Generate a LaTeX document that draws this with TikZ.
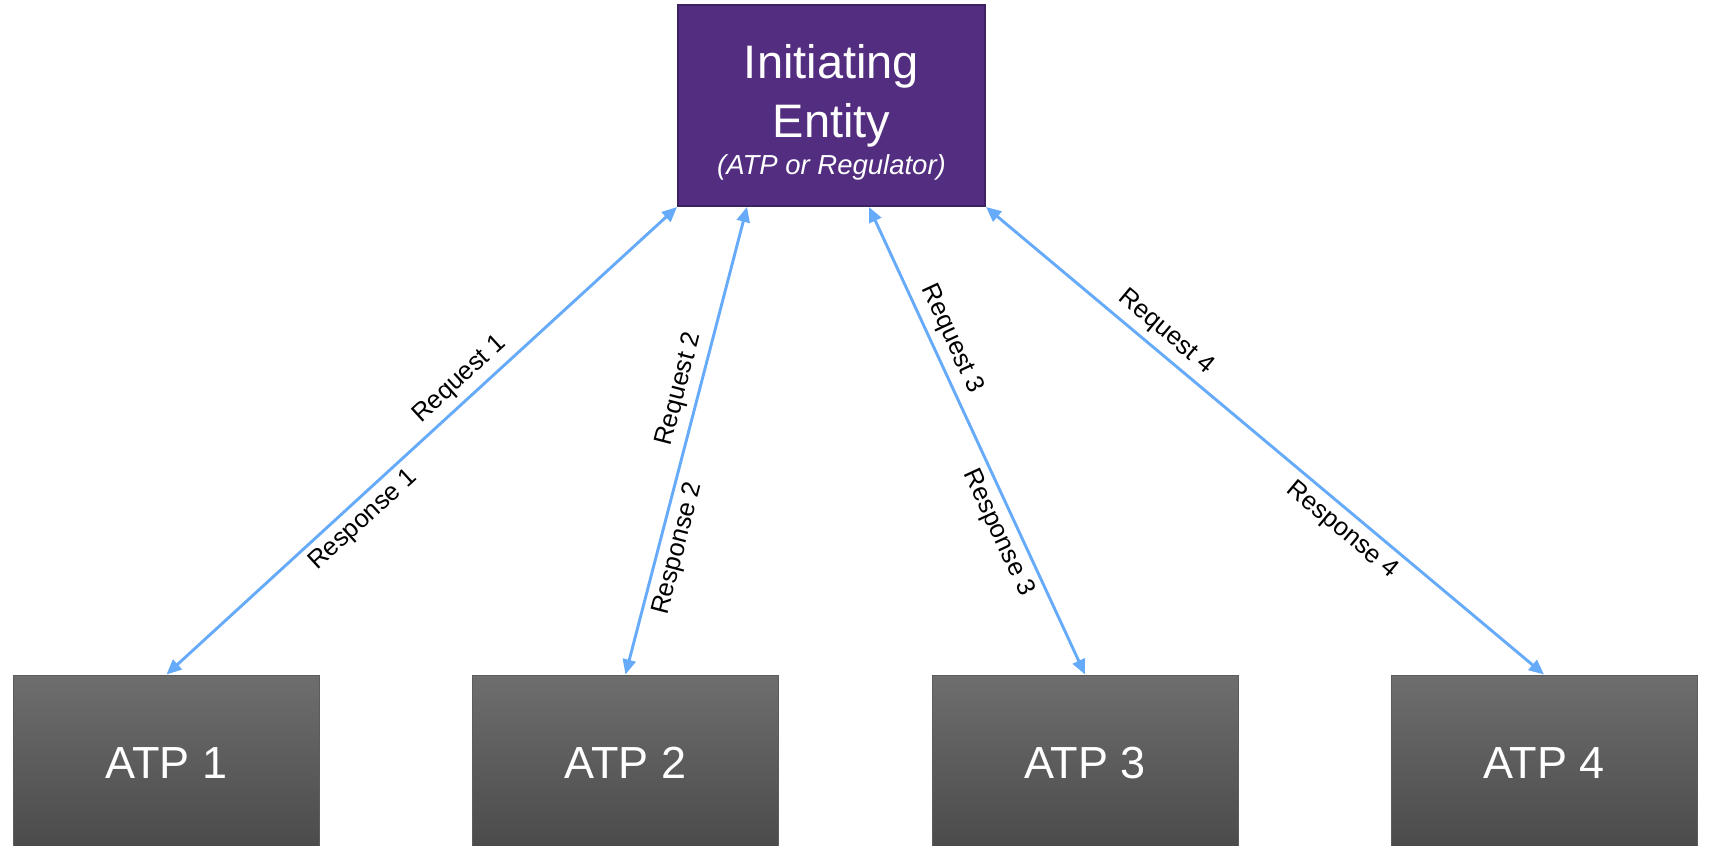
\documentclass[tikz,border=0pt]{standalone}
\usepackage{fontspec}
\setmainfont{Liberation Sans}
\usetikzlibrary{arrows.meta,calc}
\definecolor{iepurple}{RGB}{82,45,128}
\definecolor{ieborder}{RGB}{62,33,98}
\definecolor{arrowblue}{RGB}{102,170,250}
\definecolor{atptop}{RGB}{110,110,110}
\definecolor{atpbot}{RGB}{74,74,74}
\definecolor{atpborder}{RGB}{92,92,92}
\begin{document}
\begin{tikzpicture}[x=1pt,y=-1pt,
  iebox/.style={draw=ieborder, line width=2pt, fill=iepurple, minimum width=307pt, minimum height=201pt, inner sep=0pt},
  atpbox/.style={draw=atpborder, line width=1pt, top color=atptop, bottom color=atpbot, minimum width=306pt, minimum height=176pt, text=white, font=\fontsize{45}{50}\selectfont, inner sep=0pt},
  link/.style={draw=arrowblue, line width=2.9pt, {Triangle[length=15pt,width=13pt]}-{Triangle[length=15pt,width=13pt]}},
  lbl/.style={font=\fontsize{25.5}{29}\selectfont, sloped, inner sep=6.5pt},
  ietext/.style={text=white, anchor=base, inner sep=0pt}]
\useasboundingbox (0,0) rectangle (1709,846);
\clip (0,0) rectangle (1709,846);
\fill[white] (0,0) rectangle (1709,846);

\node[iebox] (ie) at (831.5,105.5) {};
\node[ietext, font=\fontsize{47}{56}\selectfont] (ie1) at (831.5,78) {Initiating};
\node[ietext, font=\fontsize{47}{56}\selectfont] (ie2) at (831.5,137) {Entity};
\node[ietext, font=\fontsize{27.5}{31}\selectfont\itshape] (ie3) at (831.5,174) {(ATP or Regulator)};

\node[atpbox] (a1) at (166.5,763) {ATP 1};
\node[atpbox] (a2) at (625.5,763) {ATP 2};
\node[atpbox] (a3) at (1085,763) {ATP 3};
\node[atpbox] (a4) at (1544,763) {ATP 4};

\coordinate (t2) at ($(ie.south west)+(70,0)$);
\coordinate (t3) at ($(ie.south west)+(192,0)$);

\draw[link] (a1.north) -- (ie.south west)
  node[lbl, pos=0.60, above] (q1) {Request 1}
  node[lbl, pos=0.36, below] (r1) {Response 1};
\draw[link] (a2.north) -- (t2)
  node[lbl, pos=0.60, above] (q2) {Request 2}
  node[lbl, pos=0.28, below] (r2) {Response 2};
\draw[link] (t3) -- (a3.north)
  node[lbl, pos=0.30, above] (q3) {Request 3}
  node[lbl, pos=0.68, below] (r3) {Response 3};
\draw[link] (ie.south east) -- (a4.north)
  node[lbl, pos=0.30, above] (q4) {Request 4}
  node[lbl, pos=0.66, below] (r4) {Response 4};
\end{tikzpicture}
\end{document}
